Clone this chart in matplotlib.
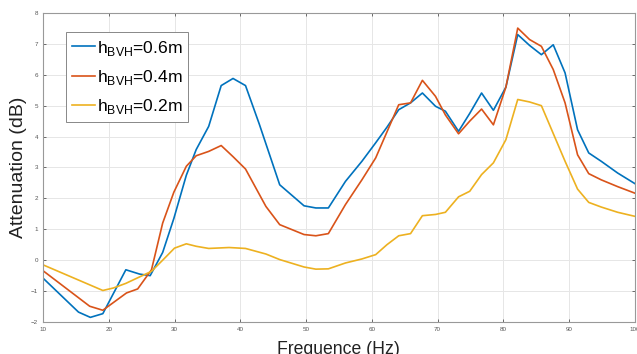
import matplotlib
matplotlib.use("Agg")
import matplotlib.pyplot as plt

plt.rcParams["font.family"] = ["Liberation Sans", "DejaVu Sans"]
plt.rcParams["mathtext.fontset"] = "custom"
plt.rcParams["mathtext.rm"] = "Liberation Sans"

# data
freq_06 = [10, 15.4, 17.2, 19.1, 22.6, 24.7, 26.3, 28.2, 29.9, 31.8, 33.3, 35.2, 37.1, 38.9,
           40.8, 42.9, 46.0, 49.7, 51.5, 53.4, 56.0, 58.5, 60.6, 62.3, 64.1, 65.9, 67.7, 69.7,
           71.2, 73.2, 74.9, 76.7, 78.5, 80.4, 82.2, 84.0, 85.8, 87.6, 89.4, 91.3, 93.0, 94.9,
           97.4, 100]
att_06 = [-0.58, -1.68, -1.85, -1.73, -0.31, -0.45, -0.5, 0.25, 1.35, 2.75, 3.58, 4.33, 5.65, 5.88,
          5.65, 4.4, 2.44, 1.76, 1.69, 1.69, 2.55, 3.2, 3.8, 4.3, 4.87, 5.09, 5.41, 4.98,
          4.82, 4.17, 4.75, 5.41, 4.85, 5.6, 7.3, 6.95, 6.65, 6.97, 6.06, 4.22, 3.47, 3.2,
          2.82, 2.48]

freq_04 = [10, 17.1, 19.1, 22.7, 24.4, 26.5, 28.2, 29.9, 31.8, 33.3, 35.2, 37.1, 38.9, 40.8,
           43.9, 46.0, 49.7, 51.5, 53.4, 56.0, 58.5, 60.6, 64.1, 65.9, 67.7, 69.7, 71.2, 73.2,
           74.9, 76.7, 78.5, 80.4, 82.2, 84.0, 85.8, 87.6, 89.4, 91.3, 93.0, 94.9, 97.4, 100]
att_04 = [-0.34, -1.49, -1.62, -1.06, -0.93, -0.31, 1.2, 2.2, 3.04, 3.38, 3.52, 3.71, 3.35, 2.95,
          1.74, 1.15, 0.83, 0.79, 0.86, 1.8, 2.6, 3.31, 5.03, 5.09, 5.82, 5.3, 4.7, 4.09,
          4.5, 4.89, 4.38, 5.6, 7.51, 7.14, 6.92, 6.17, 5.09, 3.41, 2.8, 2.6, 2.38, 2.17]

freq_02 = [10, 19.1, 20.7, 22.6, 24.7, 26.5, 28.2, 30.0, 31.8, 33.3, 35.2, 38.3, 40.8, 43.9,
           46.0, 49.7, 51.5, 53.4, 56.0, 58.5, 60.6, 62.3, 64.1, 65.9, 67.7, 69.7, 71.2, 73.2,
           74.9, 76.7, 78.5, 80.4, 82.2, 84.0, 85.8, 87.6, 89.4, 91.3, 93.0, 94.9, 97.4, 100]
att_02 = [-0.15, -0.98, -0.9, -0.75, -0.54, -0.36, 0.0, 0.39, 0.53, 0.45, 0.38, 0.41, 0.38, 0.2,
          0.02, -0.22, -0.29, -0.28, -0.09, 0.04, 0.18, 0.5, 0.79, 0.86, 1.44, 1.48, 1.55, 2.05,
          2.23, 2.77, 3.15, 3.9, 5.2, 5.12, 5.0, 4.1, 3.2, 2.3, 1.87, 1.72, 1.55, 1.42]

labels = [r"h$_{\mathrm{BVH}}$=0.6m", r"h$_{\mathrm{BVH}}$=0.4m", r"h$_{\mathrm{BVH}}$=0.2m"]
colors = ["#0072BD", "#D95319", "#EDB120"]

fig = plt.figure(figsize=(6.37, 3.54), dpi=100)
ax = fig.add_axes([0.0675, 0.0904, 0.929, 0.873])

for fx, ay, lab, col in zip([freq_06, freq_04, freq_02], [att_06, att_04, att_02], labels, colors):
    ax.plot(fx, ay, color=col, lw=1.2, label=lab)

ax.set_xlim(10, 100)
ax.set_ylim(-2, 8)
ax.set_xticks(range(10, 101, 10))
ax.set_yticks(range(-2, 9))
ax.grid(True, color="#e6e6e6", lw=0.7)
ax.set_axisbelow(True)
ax.tick_params(labelsize=4.5, colors="#555555", length=2.5, width=0.6, direction="in",
               right=True, top=True)
for s in ax.spines.values():
    s.set_color("#999999")
    s.set_linewidth(0.8)

ax.set_xlabel("Frequence (Hz)", fontsize=12.7, color="#222222", labelpad=6.5)
ax.set_ylabel("Attenuation (dB)", fontsize=14, color="#222222", labelpad=3)

leg = ax.legend(loc="upper left", bbox_to_anchor=(0.039, 0.937), fontsize=12.6,
                handlelength=1.3, handletextpad=0.1, borderpad=0.35, labelspacing=0.58,
                borderaxespad=0, fancybox=False, framealpha=1, edgecolor="#888888")
leg.get_frame().set_linewidth(0.7)

fig.savefig("out.png", dpi=100)
